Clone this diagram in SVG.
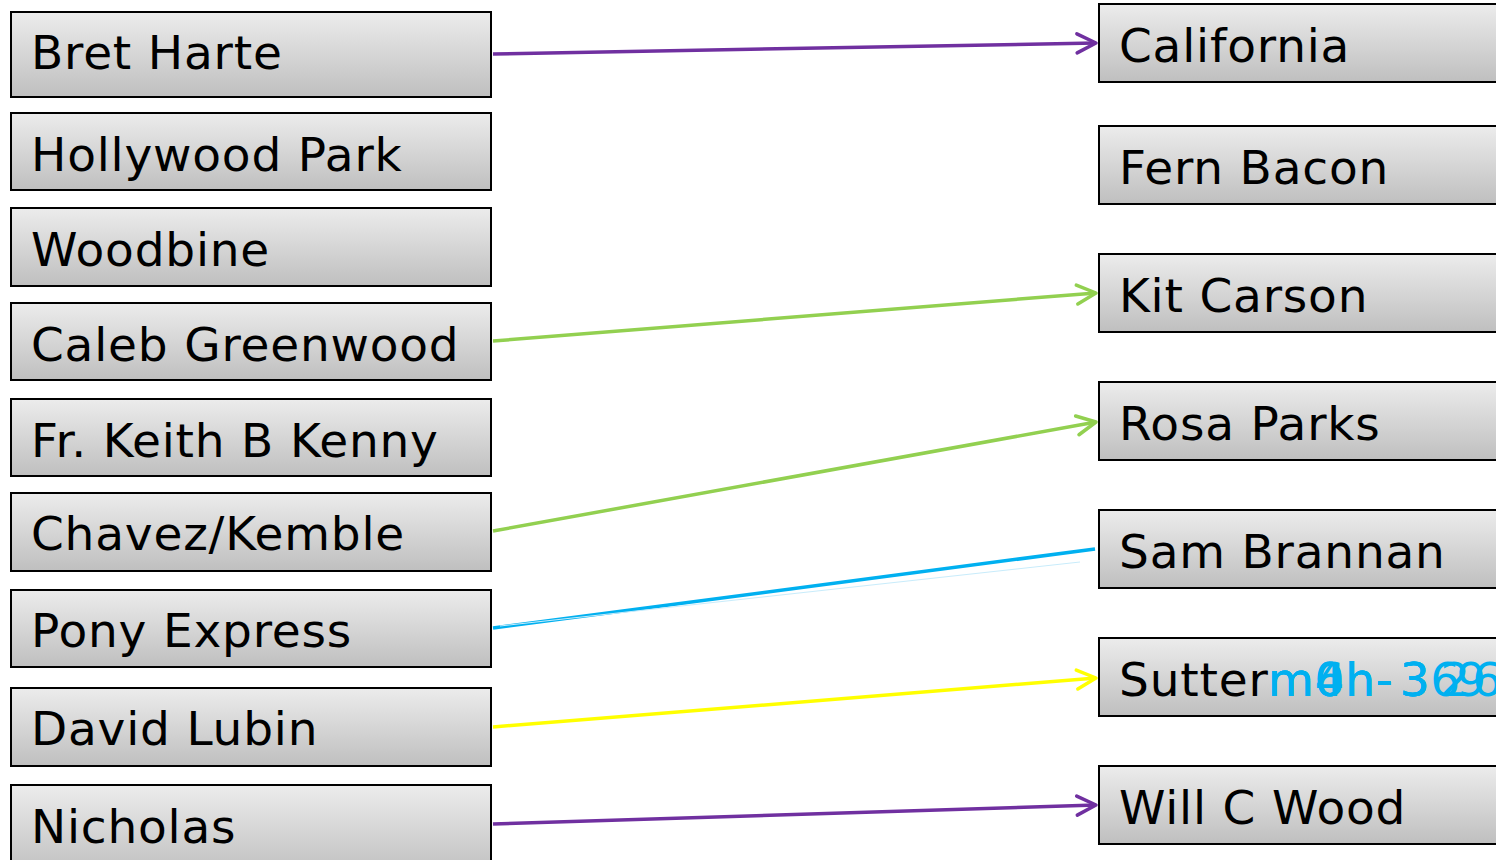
<svg xmlns="http://www.w3.org/2000/svg" width="1496" height="860" viewBox="0 0 1496 860">
<defs>
<linearGradient id="g" x1="0" y1="0" x2="0" y2="1">
<stop offset="0" stop-color="#ececec"/>
<stop offset="1" stop-color="#bfbfbf"/>
</linearGradient>
<marker id="aP" viewBox="-12 -6 26 24" refX="11" refY="6" markerWidth="26" markerHeight="24" markerUnits="userSpaceOnUse" orient="auto" overflow="visible">
<path d="M-8,-3.5 L11,6 L-8,15.5" fill="none" stroke="#7030A0" stroke-width="3.5" stroke-linecap="round" stroke-linejoin="round"/>
</marker>
<marker id="aG" viewBox="-12 -6 26 24" refX="11" refY="6" markerWidth="26" markerHeight="24" markerUnits="userSpaceOnUse" orient="auto" overflow="visible">
<path d="M-8,-3.5 L11,6 L-8,15.5" fill="none" stroke="#92D050" stroke-width="3.5" stroke-linecap="round" stroke-linejoin="round"/>
</marker>
<marker id="aY" viewBox="-12 -6 26 24" refX="11" refY="6" markerWidth="26" markerHeight="24" markerUnits="userSpaceOnUse" orient="auto" overflow="visible">
<path d="M-8,-3.5 L11,6 L-8,15.5" fill="none" stroke="#FFFF00" stroke-width="3.5" stroke-linecap="round" stroke-linejoin="round"/>
</marker>
</defs>
<style>
.box{fill:url(#g);stroke:#000;stroke-width:2}
.t{font-family:"DejaVu Sans",Verdana,sans-serif;font-size:47px;fill:#000;letter-spacing:0.8px}
.b{font-family:"DejaVu Sans",Verdana,sans-serif;font-size:47px;fill:#00B0F0;letter-spacing:0.8px}
.c{fill:none;stroke-width:3.5}
</style>
<rect width="1496" height="860" fill="#fff"/>
<g id="connectors">
<line class="c" x1="493" y1="54" x2="1096" y2="43" stroke="#7030A0" marker-end="url(#aP)"/>
<line class="c" x1="493" y1="341" x2="1096" y2="293" stroke="#92D050" marker-end="url(#aG)"/>
<line class="c" x1="493" y1="531" x2="1096" y2="422" stroke="#92D050" marker-end="url(#aG)"/>
<line class="c" x1="493" y1="628" x2="1095" y2="549" stroke="#00B0F0"/>
<line x1="500" y1="626" x2="1080" y2="562" stroke="#c8ecfb" stroke-width="1"/>
<line class="c" x1="493" y1="727" x2="1096" y2="678" stroke="#FFFF00" marker-end="url(#aY)"/>
<line class="c" x1="493" y1="824" x2="1096" y2="805" stroke="#7030A0" marker-end="url(#aP)"/>
</g>
<g id="n-bret"><rect class="box" x="11" y="12" width="480" height="85"/><text class="t" x="31" y="69">Bret Harte</text></g>
<g id="n-hollywood"><rect class="box" x="11" y="113" width="480" height="77"/><text class="t" x="31" y="171">Hollywood Park</text></g>
<g id="n-woodbine"><rect class="box" x="11" y="208" width="480" height="78"/><text class="t" x="31" y="266">Woodbine</text></g>
<g id="n-caleb"><rect class="box" x="11" y="303" width="480" height="77"/><text class="t" x="31" y="361">Caleb Greenwood</text></g>
<g id="n-keith"><rect class="box" x="11" y="399" width="480" height="77"/><text class="t" x="31" y="457">Fr. Keith B Kenny</text></g>
<g id="n-chavez"><rect class="box" x="11" y="493" width="480" height="78"/><text class="t" x="31" y="550">Chavez/Kemble</text></g>
<g id="n-pony"><rect class="box" x="11" y="590" width="480" height="77"/><text class="t" x="31" y="647">Pony Express</text></g>
<g id="n-david"><rect class="box" x="11" y="688" width="480" height="78"/><text class="t" x="31" y="745">David Lubin</text></g>
<g id="n-nicholas"><rect class="box" x="11" y="785" width="480" height="90"/><text class="t" x="31" y="843">Nicholas</text></g>
<g id="n-california"><rect class="box" x="1099" y="4" width="410" height="78"/><text class="t" x="1119" y="62">California</text></g>
<g id="n-fern"><rect class="box" x="1099" y="126" width="410" height="78"/><text class="t" x="1119" y="184">Fern Bacon</text></g>
<g id="n-kit"><rect class="box" x="1099" y="254" width="410" height="78"/><text class="t" x="1119" y="312">Kit Carson</text></g>
<g id="n-rosa"><rect class="box" x="1099" y="382" width="410" height="78"/><text class="t" x="1119" y="440">Rosa Parks</text></g>
<g id="n-sam"><rect class="box" x="1099" y="510" width="410" height="78"/><text class="t" x="1119" y="568">Sam Brannan</text></g>
<g id="n-sutter"><rect class="box" x="1099" y="638" width="410" height="78"/><text class="t" x="1119" y="696">Sutter</text>
<text class="b" x="1268" y="696">m0h-<tspan dx="6">36</tspan></text>
<text class="b" x="1268" y="696">m4h-<tspan dx="6">3</tspan><tspan dx="10">2</tspan></text>
<text class="b" x="1268" y="696">m6h-<tspan dx="6">3</tspan><tspan dx="26">9</tspan></text>
<text class="b" x="1268" y="696">m0h-<tspan dx="6">3</tspan><tspan dx="42">6</tspan></text>
</g>
<g id="n-will"><rect class="box" x="1099" y="766" width="410" height="78"/><text class="t" x="1119" y="824">Will C Wood</text></g>
</svg>
